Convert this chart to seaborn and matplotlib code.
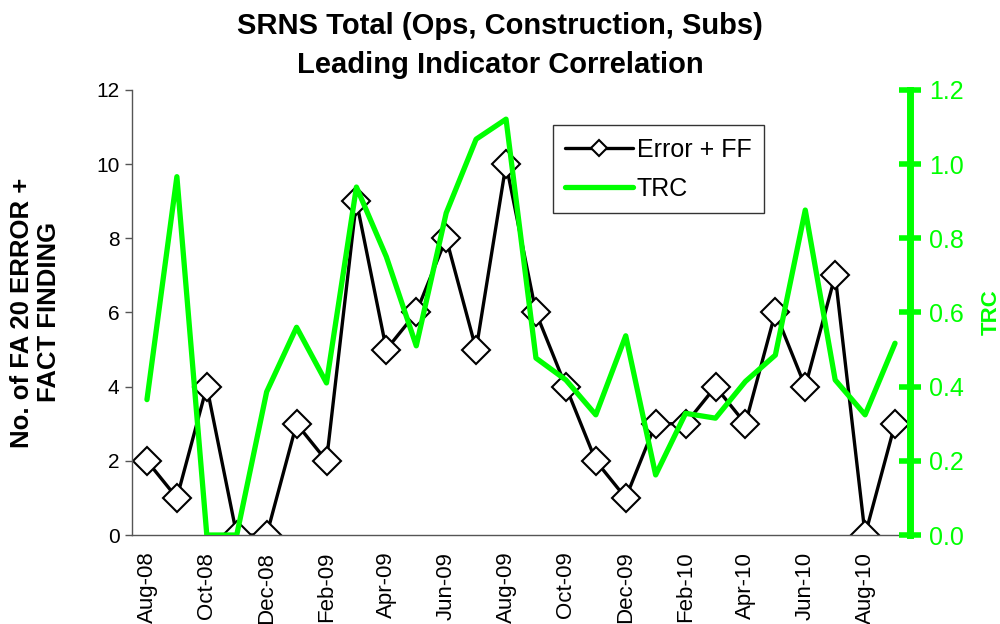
import matplotlib
matplotlib.use("Agg")
import matplotlib.pyplot as plt
import seaborn as sns
import numpy as np
import pandas as pd

months = ["Aug-08", "Sep-08", "Oct-08", "Nov-08", "Dec-08", "Jan-09", "Feb-09",
          "Mar-09", "Apr-09", "May-09", "Jun-09", "Jul-09", "Aug-09", "Sep-09",
          "Oct-09", "Nov-09", "Dec-09", "Jan-10", "Feb-10", "Mar-10", "Apr-10",
          "May-10", "Jun-10", "Jul-10", "Aug-10", "Sep-10"]
error_ff = [2, 1, 4, 0, 0, 3, 2, 9, 5, 6, 8, 5, 10, 6, 4, 2, 1, 3, 3, 4, 3, 6, 4, 7, 0, 3]
trc = [0.365, 0.966, 0.0, 0.0, 0.386, 0.56, 0.41, 0.938, 0.75, 0.51, 0.868, 1.067, 1.121,
       0.477, 0.418, 0.324, 0.537, 0.162, 0.328, 0.315, 0.414, 0.485, 0.876, 0.418, 0.324, 0.517]
left_ticks = [0, 2, 4, 6, 8, 10, 12]
right_ticks = [0.0, 0.2, 0.4, 0.6, 0.8, 1.0, 1.2]

sns.set_style("white")
plt.rcParams["font.family"] = ["Liberation Sans", "DejaVu Sans"]
plt.rcParams["text.color"] = "black"
plt.rcParams["axes.labelcolor"] = "black"
plt.rcParams["xtick.color"] = "black"
plt.rcParams["ytick.color"] = "black"

GREEN = "#00FF00"
df = pd.DataFrame({"pos": np.arange(len(months)), "month": months,
                   "error": error_ff, "trc": trc})

fig = plt.figure(figsize=(10, 6.24), dpi=100)
ax = fig.add_axes([0.132, 0.1426, 0.778, 0.7134])
ax2 = ax.twinx()

sns.lineplot(data=df, x="pos", y="error", ax=ax, color="black", lw=2.4,
             marker="D", markersize=14, markerfacecolor="white",
             markeredgecolor="black", markeredgewidth=1.5, label="Error + FF",
             legend=False)
sns.lineplot(data=df, x="pos", y="trc", ax=ax2, color=GREEN, lw=3.8,
             label="TRC", legend=False)

n = len(months)
ax.set_xlim(-0.5, n - 0.5)
ax.set_ylim(0, 12)
ax2.set_ylim(0, 1.2)
ax.set_yticks(left_ticks)
ax.set_yticklabels([str(t) for t in left_ticks], fontsize=15)
ax2.set_yticks(right_ticks)
ax2.set_yticklabels([f"{t:.1f}" for t in right_ticks], fontsize=18, color=GREEN)

ax.set_xticks(np.arange(0, n, 2))
ax.set_xticklabels(months[::2], rotation=90, fontsize=16)
ax.set_xticks(np.arange(-0.5, n, 1), minor=True)
ax.tick_params(axis="x", which="major", length=0, pad=12)
ax.tick_params(axis="x", which="minor", length=5, color="#555555", width=1, direction="out")
ax.tick_params(axis="y", length=5, color="#555555", width=1, direction="out", left=True, pad=4)
ax2.tick_params(axis="y", length=16, color=GREEN, width=4, direction="inout", right=True, pad=6)
ax2.tick_params(axis="x", length=0)

for a in (ax, ax2):
    a.spines["top"].set_visible(False)
ax.spines["right"].set_visible(False)
ax2.spines["left"].set_visible(False)
ax2.spines["bottom"].set_visible(False)
ax.spines["left"].set_color("#555555")
ax.spines["bottom"].set_color("#555555")
ax.spines["left"].set_linewidth(1)
ax.spines["bottom"].set_linewidth(1)
ax2.spines["right"].set_color(GREEN)
ax2.spines["right"].set_linewidth(5)
ax.set_xlabel("")
ax.set_ylabel("No. of FA 20 ERROR +\nFACT FINDING", fontsize=18.5, fontweight="bold",
              linespacing=1.15)
ax.yaxis.set_label_coords(-0.091, 0.5)
ax2.set_ylabel("TRC", fontsize=16, fontweight="bold", color=GREEN, labelpad=12)

fig.suptitle("SRNS Total (Ops, Construction, Subs)\nLeading Indicator Correlation",
             fontsize=21, fontweight="bold", y=0.98, linespacing=1.5, color="black")

h1, l1 = ax.get_legend_handles_labels()
h2, l2 = ax2.get_legend_handles_labels()
leg = ax2.legend(h1 + h2, l1 + l2, loc="upper left", bbox_to_anchor=(0.541, 0.921),
                 fontsize=18, frameon=True, fancybox=False, edgecolor="black",
                 handlelength=2.7, borderpad=0.5, labelspacing=0.6, handletextpad=0.15,
                 borderaxespad=0, markerscale=0.6)
leg.get_frame().set_linewidth(1)

fig.savefig("out.png", dpi=100)
